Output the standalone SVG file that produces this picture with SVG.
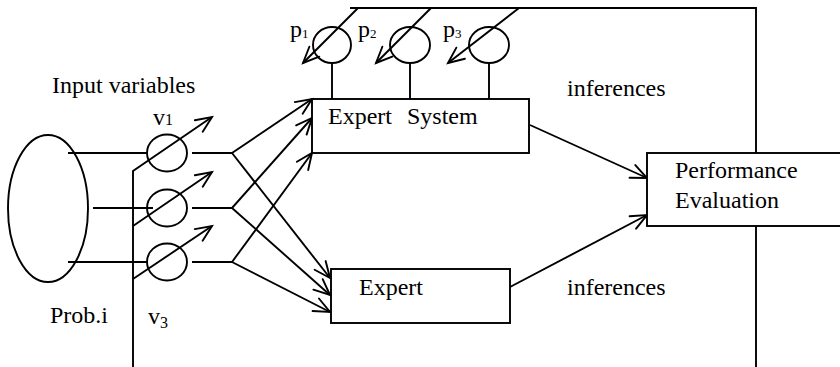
<svg xmlns="http://www.w3.org/2000/svg" width="840" height="367" viewBox="0 0 840 367">
<style>
.s{fill:none;stroke:#000;stroke-width:1.9}
.b{fill:#fff;stroke:#000;stroke-width:1.9}
text{font-family:"Liberation Serif","Times New Roman",serif;font-size:24px;fill:#000}
.sub{font-size:16px}
.psub{font-size:13px}
</style>
<defs>
<marker id="ah" markerUnits="userSpaceOnUse" markerWidth="20" markerHeight="18" refX="17" refY="8" orient="auto" overflow="visible">
<path d="M1,1 L17,8 L1,15" fill="none" stroke="#000" stroke-width="1.9" stroke-linecap="round" stroke-linejoin="miter"/>
</marker>
</defs>
<rect width="840" height="367" fill="#fff"/>

<g id="connectors">
<line class="s" x1="68" y1="153" x2="147" y2="153"/>
<line class="s" x1="93" y1="208" x2="153" y2="208"/>
<line class="s" x1="68" y1="262" x2="147" y2="262"/>
<polyline class="s" points="133,367 133,171 212,117" marker-end="url(#ah)"/>
<line class="s" x1="133" y1="226" x2="212" y2="172" marker-end="url(#ah)"/>
<line class="s" x1="133" y1="279" x2="212" y2="226" marker-end="url(#ah)"/>
<line class="s" x1="192" y1="153" x2="232" y2="153"/>
<line class="s" x1="192" y1="208" x2="232" y2="208"/>
<line class="s" x1="192" y1="262" x2="232" y2="262"/>
<line class="s" x1="232" y1="153" x2="312" y2="99" marker-end="url(#ah)"/>
<line class="s" x1="232" y1="208" x2="312" y2="118" marker-end="url(#ah)"/>
<line class="s" x1="232" y1="262" x2="312" y2="153" marker-end="url(#ah)"/>
<line class="s" x1="232" y1="153" x2="330" y2="278" marker-end="url(#ah)"/>
<line class="s" x1="232" y1="208" x2="330" y2="295" marker-end="url(#ah)"/>
<line class="s" x1="232" y1="262" x2="330" y2="312" marker-end="url(#ah)"/>
<line class="s" x1="530" y1="125" x2="647" y2="178" marker-end="url(#ah)"/>
<line class="s" x1="510" y1="287" x2="647" y2="215" marker-end="url(#ah)"/>
<polyline class="s" points="350,8 756,8 756,153"/>
<line class="s" x1="756" y1="226" x2="756" y2="367"/>
<line class="s" x1="358" y1="8" x2="303" y2="63" marker-end="url(#ah)"/>
<line class="s" x1="431" y1="8" x2="376" y2="63" marker-end="url(#ah)"/>
<line class="s" x1="519" y1="8" x2="448" y2="63" marker-end="url(#ah)"/>
<line class="s" x1="332" y1="63" x2="332" y2="99"/>
<line class="s" x1="410" y1="63" x2="410" y2="99"/>
<line class="s" x1="489" y1="63" x2="489" y2="99"/>
</g>

<g id="prob">
<ellipse class="s" cx="48" cy="208.5" rx="40" ry="73.5"/>
<text x="50" y="323">Prob.i</text>
</g>

<g id="input-label">
<text x="52" y="93">Input variables</text>
</g>

<g id="v1">
<ellipse class="s" cx="167" cy="153" rx="20" ry="18.5"/>
<text x="153" y="125">v<tspan class="sub">1</tspan></text>
</g>
<g id="v2">
<ellipse class="s" cx="167" cy="208" rx="20" ry="18.5"/>
</g>
<g id="v3">
<ellipse class="s" cx="167" cy="262" rx="20" ry="18.5"/>
<text x="148" y="324">v<tspan class="sub" dy="4">3</tspan></text>
</g>

<g id="p1">
<ellipse class="s" cx="332" cy="45" rx="19" ry="18"/>
<text x="290" y="37">p<tspan class="psub" dy="1">1</tspan></text>
</g>
<g id="p2">
<ellipse class="s" cx="410" cy="45" rx="20" ry="18"/>
<text x="358" y="37">p<tspan class="psub" dy="1">2</tspan></text>
</g>
<g id="p3">
<ellipse class="s" cx="489" cy="45" rx="20" ry="18"/>
<text x="443" y="37">p<tspan class="psub" dy="1">3</tspan></text>
</g>

<g id="expert-system">
<rect class="b" x="312" y="99" width="217" height="54"/>
<text x="328" y="124">Expert<tspan x="407">System</tspan></text>
</g>

<g id="expert">
<rect class="b" x="331" y="269" width="179" height="54"/>
<text x="359" y="295">Expert</text>
</g>

<g id="performance-evaluation">
<rect class="b" x="647" y="153" width="210" height="73"/>
<text x="675" y="178">Performance</text>
<text x="675" y="208">Evaluation</text>
</g>

<g id="labels">
<text x="567" y="96">inferences</text>
<text x="567" y="295">inferences</text>
</g>
</svg>
